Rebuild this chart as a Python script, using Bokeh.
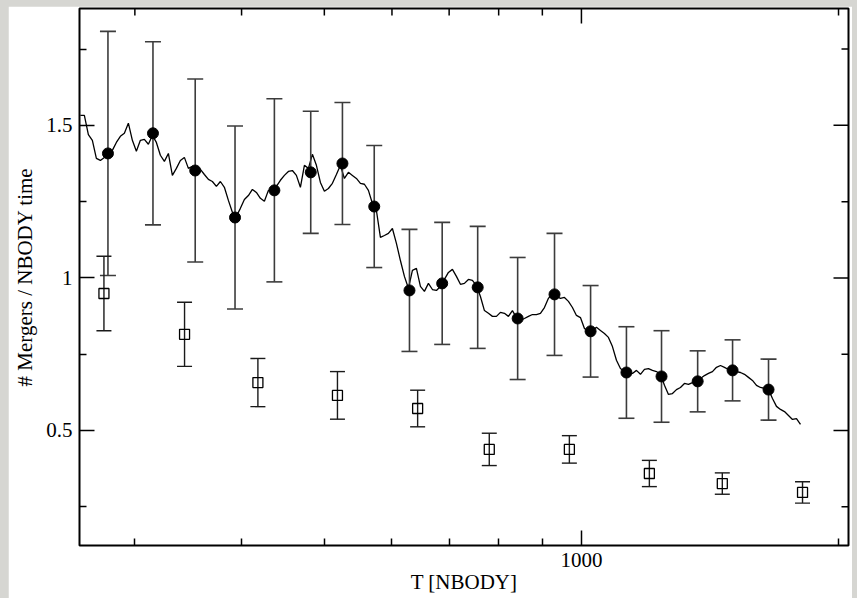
import numpy as np
from bokeh.plotting import figure
from bokeh.models import Range1d, FixedTicker, ColumnDataSource, Column
from bokeh.embed import file_html
from bokeh.resources import INLINE

# ---------------- data ----------------
# filled circles with error bars
circ_T = [279, 315, 353, 393, 437, 482, 525, 572, 629, 687, 756, 842, 930,
          1025, 1129, 1241, 1368, 1503, 1656]
circ_y = [1.408, 1.474, 1.352, 1.198, 1.287, 1.346, 1.375, 1.234, 0.959, 0.982,
          0.969, 0.867, 0.946, 0.825, 0.690, 0.677, 0.661, 0.697, 0.634]
circ_err = [0.40, 0.30, 0.30, 0.30, 0.30, 0.20, 0.20, 0.20, 0.20, 0.20,
            0.20, 0.20, 0.20, 0.15, 0.15, 0.15, 0.10, 0.10, 0.10]

# open squares with error bars
sq_T = [276, 343, 418, 518, 643, 780, 968, 1201, 1462, 1815]
sq_y = [0.949, 0.815, 0.657, 0.615, 0.572, 0.438, 0.438, 0.359, 0.326, 0.297]
sq_err = [0.122, 0.105, 0.079, 0.078, 0.060, 0.053, 0.045, 0.043, 0.035, 0.035]

# running curve, sampled evenly in log T between these limits
line_T_start = 259.0
line_T_end = 1805.0
line_y = [
    1.533, 1.533, 1.470, 1.451, 1.392, 1.385, 1.395, 1.405, 1.418, 1.444,
    1.464, 1.474, 1.507, 1.451, 1.415, 1.451, 1.454, 1.438, 1.467, 1.444,
    1.402, 1.382, 1.408, 1.336, 1.359, 1.385, 1.395, 1.359, 1.366, 1.352,
    1.356, 1.339, 1.323, 1.316, 1.300, 1.316, 1.297, 1.254, 1.215, 1.202,
    1.228, 1.257, 1.270, 1.290, 1.280, 1.261, 1.251, 1.287, 1.284, 1.300,
    1.320, 1.336, 1.349, 1.352, 1.336, 1.297, 1.369, 1.359, 1.405, 1.369,
    1.313, 1.284, 1.293, 1.310, 1.339, 1.369, 1.326, 1.346, 1.336, 1.326,
    1.310, 1.307, 1.287, 1.244, 1.221, 1.133, 1.139, 1.146, 1.162, 1.113,
    1.057, 1.005, 0.966, 1.025, 1.031, 0.972, 0.956, 0.982, 0.962, 0.959,
    0.972, 0.995, 1.018, 1.028, 1.005, 0.979, 0.982, 0.995, 0.992, 0.975,
    0.939, 0.893, 0.884, 0.874, 0.874, 0.887, 0.884, 0.874, 0.893, 0.870,
    0.861, 0.867, 0.874, 0.880, 0.880, 0.884, 0.903, 0.933, 0.949, 0.939,
    0.933, 0.936, 0.923, 0.903, 0.877, 0.870, 0.834, 0.825, 0.828, 0.838,
    0.828, 0.818, 0.805, 0.775, 0.730, 0.703, 0.693, 0.687, 0.687, 0.697,
    0.684, 0.700, 0.703, 0.697, 0.693, 0.684, 0.648, 0.618, 0.621, 0.634,
    0.641, 0.654, 0.651, 0.657, 0.661, 0.670, 0.680, 0.687, 0.693, 0.707,
    0.713, 0.707, 0.700, 0.697, 0.693, 0.690, 0.684, 0.674, 0.664, 0.648,
    0.641, 0.638, 0.634, 0.605, 0.579, 0.569, 0.562, 0.549, 0.536, 0.539,
    0.520,
]

x_major = [1000]
x_minor = [300, 400, 500, 600, 700, 800, 900, 2000]
y_major = [0.5, 1.0, 1.5]
y_minor = [0.25, 0.75, 1.25, 1.75]
x_labels = {1000: "1000"}
y_labels = {0.5: "0.5", 1.0: "1", 1.5: "1.5"}

x_lim = (258.4, 2054.5)
y_lim = (0.123, 1.883)

FONT = "Liberation Serif"
MAJ, MIN = 15, 7

# ---------------- figure ----------------
p = figure(width=844, height=592, x_axis_type="log",
           x_range=Range1d(*x_lim), y_range=Range1d(*y_lim),
           output_backend="svg", toolbar_location=None,
           min_border_left=71, min_border_right=4, min_border_top=2, min_border_bottom=53)
p.margin = (6, 5, 0, 8)
p.background_fill_color = "white"
p.border_fill_color = "white"
p.outline_line_color = "black"
p.outline_line_width = 2
p.xgrid.visible = False
p.ygrid.visible = False

p.xaxis.axis_label = "T [NBODY]"
p.yaxis.axis_label = "# Mergers / NBODY time"
p.xaxis.ticker = FixedTicker(ticks=x_major, minor_ticks=x_minor)
p.yaxis.ticker = FixedTicker(ticks=y_major, minor_ticks=y_minor)
p.xaxis.major_label_overrides = x_labels
p.yaxis.major_label_overrides = y_labels

for ax in p.axis:
    ax.axis_line_color = None
    ax.major_tick_in = MAJ
    ax.major_tick_out = 0
    ax.minor_tick_in = MIN
    ax.minor_tick_out = 0
    ax.major_tick_line_color = "black"
    ax.minor_tick_line_color = "black"
    ax.major_tick_line_width = 1.5
    ax.minor_tick_line_width = 1.5
    ax.major_label_text_font = FONT
    ax.axis_label_text_font = FONT
    ax.axis_label_text_font_style = "normal"
    ax.axis_label_text_color = "black"
    ax.major_label_text_color = "black"
    ax.major_label_text_font_size = "21px"
    ax.axis_label_text_font_size = "21px"

p.xaxis.major_label_standoff = 7
p.xaxis.axis_label_standoff = 0
p.yaxis.major_label_standoff = 7
p.yaxis.axis_label_standoff = 6

# mirrored ticks on the top and right edges (half-clipped dash markers)
tick_kw = dict(marker="dash", line_color="black", line_width=1.5)
p.scatter(x=x_major, y=[y_lim[1]] * len(x_major), size=2 * MAJ, angle=np.pi / 2, **tick_kw)
p.scatter(x=x_minor, y=[y_lim[1]] * len(x_minor), size=2 * MIN, angle=np.pi / 2, **tick_kw)
p.scatter(x=[x_lim[1]] * len(y_major), y=y_major, size=2 * MAJ, **tick_kw)
p.scatter(x=[x_lim[1]] * len(y_minor), y=y_minor, size=2 * MIN, **tick_kw)

# ---------------- glyphs ----------------
line_T = np.geomspace(line_T_start, line_T_end, len(line_y))
p.line(line_T, line_y, line_color="black", line_width=1.3)

cs = ColumnDataSource(dict(x=circ_T, y=circ_y,
                           lo=[v - e for v, e in zip(circ_y, circ_err)],
                           hi=[v + e for v, e in zip(circ_y, circ_err)]))
ss = ColumnDataSource(dict(x=sq_T, y=sq_y,
                           lo=[v - e for v, e in zip(sq_y, sq_err)],
                           hi=[v + e for v, e in zip(sq_y, sq_err)]))

ebc = "#3c3c3c"
p.segment(x0="x", y0="lo", x1="x", y1="hi", source=cs, line_color=ebc, line_width=1.6)
p.scatter(x="x", y="hi", source=cs, marker="dash", size=16, line_color=ebc, line_width=1.6)
p.scatter(x="x", y="lo", source=cs, marker="dash", size=16, line_color=ebc, line_width=1.6)

ebs = "#1a1a1a"
p.segment(x0="x", y0="lo", x1="x", y1="hi", source=ss, line_color=ebs, line_width=1.4)
p.scatter(x="x", y="hi", source=ss, marker="dash", size=15, line_color=ebs, line_width=1.4)
p.scatter(x="x", y="lo", source=ss, marker="dash", size=15, line_color=ebs, line_width=1.4)

p.scatter(x="x", y="y", source=cs, marker="circle", size=11,
          fill_color="black", line_color="black")
p.scatter(x="x", y="y", source=ss, marker="square", size=10,
          fill_color=None, line_color="black", line_width=1.3)

page = Column(children=[p], width=857, height=598,
              styles={"background-color": "#d6d6d2"})

open("out.html", "w").write(file_html(page, INLINE))
